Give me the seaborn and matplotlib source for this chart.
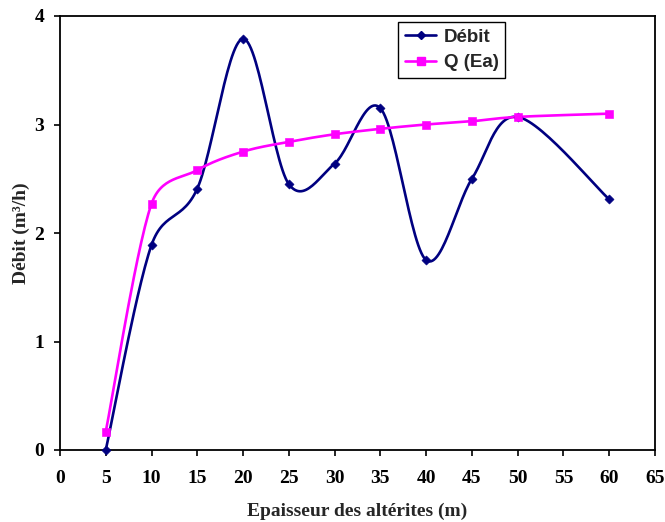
import numpy as np
import pandas as pd
import matplotlib
matplotlib.use("Agg")
import matplotlib.pyplot as plt
import seaborn as sns
from matplotlib.lines import Line2D

# === data ===
epaisseur = [5, 10, 15, 20, 25, 30, 35, 40, 45, 50, 60]
debit = [0.0, 1.89, 2.41, 3.79, 2.45, 2.64, 3.15, 1.75, 2.50, 3.07, 2.31]
q_ea = [0.17, 2.27, 2.58, 2.75, 2.84, 2.91, 2.96, 3.00, 3.03, 3.07, 3.10]

x_ticks = list(range(0, 70, 5))
y_ticks = [0, 1, 2, 3, 4]

navy = "#000080"
magenta = "#FF00FF"


def smooth(xs, ys, sx=595 / 65, sy=433 / 4, n=30):
    # Excel-like smoothed line: Bezier arms (P[i+1]-P[i-1])/6, capped at half
    # the segment length, computed in screen space
    p = np.column_stack([np.asarray(xs) * sx, np.asarray(ys) * sy])
    p = np.vstack([p[0], p, p[-1]])
    out = []
    t = np.linspace(0, 1, n)[:, None]
    for i in range(1, len(p) - 2):
        p0, p1, p2, p3 = p[i - 1], p[i], p[i + 1], p[i + 2]
        seg_len = np.linalg.norm(p2 - p1)
        a1 = (p2 - p0) / 6
        a2 = (p3 - p1) / 6
        for a in (a1, a2):
            la = np.linalg.norm(a)
            if la > seg_len / 2:
                a *= (seg_len / 2) / la
        b1 = p1 + a1
        b2 = p2 - a2
        seg = ((1 - t) ** 3) * p1 + 3 * ((1 - t) ** 2) * t * b1 + 3 * (1 - t) * t ** 2 * b2 + t ** 3 * p2
        out.append(seg if i == 1 else seg[1:])
    out = np.vstack(out)
    return pd.DataFrame({"x": out[:, 0] / sx, "y": out[:, 1] / sy})


sns.set_theme(style="ticks")
plt.rcParams["font.family"] = ["Liberation Serif", "DejaVu Serif"]

fig = plt.figure(figsize=(6.65, 5.22), dpi=100)
ax = fig.add_axes([60 / 665, 72 / 522, 595 / 665, 434 / 522])

d_s = smooth(epaisseur, debit)
q_s = smooth(epaisseur, q_ea)
sns.lineplot(data=d_s, x="x", y="y", sort=False, color=navy, lw=1.9, ax=ax)
sns.lineplot(data=q_s, x="x", y="y", sort=False, color=magenta, lw=1.9, ax=ax)
pts = pd.DataFrame({"x": epaisseur, "debit": debit, "q": q_ea})
sns.scatterplot(data=pts, x="x", y="debit", marker="D", s=22, color=navy,
                edgecolor=navy, ax=ax, zorder=5, clip_on=False)
sns.scatterplot(data=pts, x="x", y="q", marker="s", s=30, color=magenta,
                edgecolor=magenta, ax=ax, zorder=5, clip_on=False)

ax.set_xlim(0, 65)
ax.set_ylim(0, 4)
ax.set_xticks(x_ticks)
ax.set_yticks(y_ticks)
ax.tick_params(direction="out", length=4.5, width=1.2, colors="black", labelsize=14)
ax.tick_params(axis="x", pad=10)
ax.tick_params(axis="y", pad=7)
for lab in ax.get_xticklabels() + ax.get_yticklabels():
    lab.set_fontweight("bold")
for sp in ax.spines.values():
    sp.set_color("black")
    sp.set_linewidth(1.3)

ax.set_xlabel("Epaisseur des altérites (m)", fontsize=14, fontweight="bold")
ax.set_ylabel("Débit (m³/h)", fontsize=14, fontweight="bold")
ax.xaxis.set_label_coords(0.5, (450 - 503) / 434)
ax.yaxis.set_label_coords((30 - 60) / 595, 0.5)

handles = [
    Line2D([], [], color=navy, lw=1.9, marker="D", ms=4.5),
    Line2D([], [], color=magenta, lw=1.9, marker="s", ms=5.5),
]
leg = ax.legend(handles, ["Débit", "Q (Ea)"], loc="upper left",
                bbox_to_anchor=(398 / 665, 1 - 22 / 522), bbox_transform=fig.transFigure,
                borderaxespad=0, frameon=True, fancybox=False, edgecolor="black", framealpha=1,
                prop={"family": "Liberation Sans", "weight": "bold", "size": 13.5},
                handlelength=1.7, borderpad=0.35, labelspacing=0.45, handletextpad=0.4)
leg.get_frame().set_linewidth(1.0)

fig.savefig("out.png", dpi=100)
